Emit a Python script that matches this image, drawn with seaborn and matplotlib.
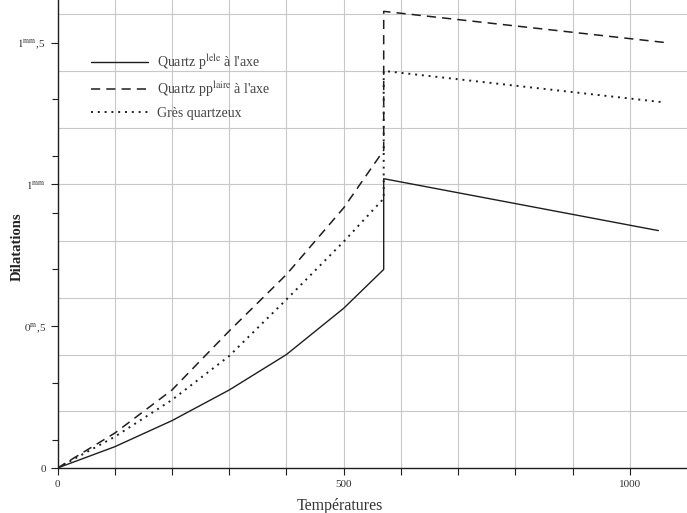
import seaborn as sns
import matplotlib.pyplot as plt
from matplotlib.ticker import FixedLocator

# temperatures (degrés) and dilatations (mm)
temp_par = [0, 100, 200, 300, 400, 500, 570, 570, 1050]
dil_par = [0, 0.075, 0.167, 0.275, 0.40, 0.563, 0.70, 1.02, 0.837]

temp_perp = [0, 100, 200, 300, 400, 500, 570, 570, 1062]
dil_perp = [0, 0.123, 0.275, 0.483, 0.682, 0.917, 1.12, 1.61, 1.50]

temp_gres = [0, 100, 200, 300, 400, 500, 570, 570, 1056]
dil_gres = [0, 0.11, 0.24, 0.395, 0.594, 0.798, 0.95, 1.40, 1.29]

labels = [r"Quartz p$^{\mathrm{lele}}$ à l'axe",
          r"Quartz pp$^{\mathrm{laire}}$ à l'axe",
          "Grès quartzeux"]

xtick_pos = [0, 100, 200, 300, 400, 500, 600, 700, 800, 900, 1000]
xtick_lab = ["0", "", "", "", "", "500", "", "", "", "", "1000"]
ytick_pos = [0, 0.5, 1.0, 1.5]
ytick_lab = ["0", r"$0^{\mathrm{m}}$,5", r"$1^{\mathrm{mm}}$", r"$1^{\mathrm{mm}}$,5"]
yminor_pos = [0.1, 0.3, 0.7, 0.9, 1.1, 1.3]

sns.set_theme(style="white")
plt.rcParams['font.family'] = ['Liberation Serif', 'DejaVu Serif']
plt.rcParams['mathtext.fontset'] = 'stix'

fig = plt.figure(figsize=(6.87, 5.13), dpi=100)
ax = fig.add_axes([0.0837, 0.0877, 0.9163, 0.9123])

# old paper grid
for gx in range(100, 1100, 100):
    ax.axvline(gx, color="#c8c8c8", lw=0.8, zorder=0)
for gy in [0.2, 0.4, 0.6, 0.8, 1.0, 1.2, 1.4, 1.6]:
    ax.axhline(gy, color="#c8c8c8", lw=0.8, zorder=0)

ink = "#1e1e1e"
sns.lineplot(x=temp_par, y=dil_par, ax=ax, color=ink, lw=1.0,
             estimator=None, sort=False, label=labels[0])
sns.lineplot(x=temp_perp, y=dil_perp, ax=ax, color=ink, lw=1.1,
             estimator=None, sort=False, label=labels[1], linestyle=(0, (6, 4)))
sns.lineplot(x=temp_gres, y=dil_gres, ax=ax, color=ink, lw=1.4,
             estimator=None, sort=False, label=labels[2], linestyle=(0, (1, 2.5)))

ax.set_xlim(0, 1100)
ax.set_ylim(0, 1.65)
ax.xaxis.set_major_locator(FixedLocator(xtick_pos))
ax.set_xticklabels(xtick_lab)
ax.yaxis.set_major_locator(FixedLocator(ytick_pos))
ax.set_yticklabels(ytick_lab)
ax.yaxis.set_minor_locator(FixedLocator(yminor_pos))
ax.tick_params(axis="both", which="both", direction="out", color=ink,
               labelsize=8, labelcolor="#333333", width=0.8)
ax.tick_params(axis="both", which="major", length=5, bottom=True, left=True)
ax.tick_params(axis="y", which="minor", length=4, left=True)

sns.despine(ax=ax)
for s in ["left", "bottom"]:
    ax.spines[s].set_color(ink)
    ax.spines[s].set_linewidth(1.0)

ax.set_xlabel("Températures", fontsize=11.5, color="#333333")
ax.xaxis.set_label_coords(0.449, -0.064)
ax.set_ylabel("Dilatations", fontsize=10.5, fontweight="bold", color="#222222")
ax.yaxis.set_label_coords(-0.054, 0.472)

leg = ax.legend(loc="upper left", bbox_to_anchor=(0.045, 0.9), frameon=False,
                fontsize=10, handlelength=4.1, labelspacing=0.55, handletextpad=0.6,
                borderaxespad=0)
for t in leg.get_texts():
    t.set_color("#444444")

fig.savefig("out.png", dpi=100)
